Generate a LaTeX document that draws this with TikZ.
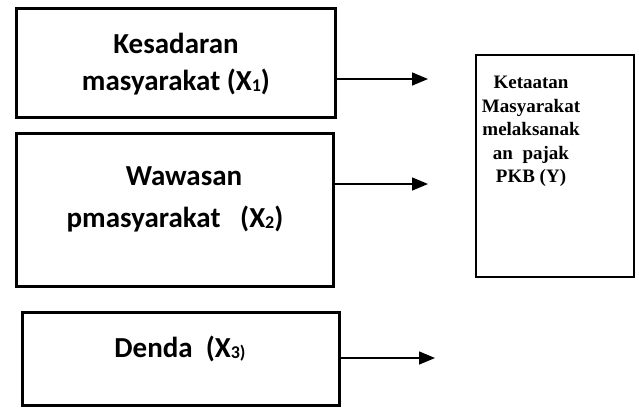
\documentclass[tikz,border=0pt]{standalone}
\usepackage{fontspec}
\setmainfont{Carlito}
\newfontfamily\serifb{Liberation Serif}
\usetikzlibrary{arrows.meta}
\newcommand{\mysub}[1]{\raisebox{-1pt}{\fontsize{18}{18}\selectfont #1}}
\begin{document}
\begin{tikzpicture}[x=1pt,y=-1pt,
  varbox/.style={draw,line width=3pt,rectangle,inner sep=0pt},
  ybox/.style={draw,line width=2pt,rectangle,inner sep=0pt},
  vtext/.style={font=\fontsize{29}{37}\selectfont\bfseries,align=center,inner sep=0pt,anchor=base},
  ytext/.style={font=\serifb\fontsize{19}{23.5}\selectfont\bfseries,align=center,inner sep=0pt,anchor=north},
  arr/.style={line width=1.5pt,-{Triangle[length=16pt,width=13pt]}}]
\useasboundingbox (0,0) rectangle (639,408);
\node[varbox,minimum width=319pt,minimum height=109pt] (b1) at (175.5,62.5) {};
\node[varbox,minimum width=317pt,minimum height=153pt] (b2) at (174.5,209.5) {};
\node[varbox,minimum width=317pt,minimum height=93pt] (b3) at (180.5,358.5) {};
\node[ybox,minimum width=158pt,minimum height=222pt] (y) at (555,166) {};
\node[vtext] (t1a) at (176,53) {Kesadaran};
\node[vtext] (t1b) at (176,90) {masyarakat (X\mysub{1})};
\node[vtext] (t2a) at (184,185) {Wawasan};
\node[vtext] (t2b) at (175,227) {pmasyarakat\ \ \ (X\mysub{2})};
\node[vtext] (t3) at (180,357) {Denda\ \ (X\mysub{3)}};
\node[ytext] (ty) at (531,76) {Ketaatan\\Masyarakat\\melaksanak\\an\ \ pajak\\PKB (Y)};
\coordinate (a1) at (428,79);
\coordinate (a2) at (428,184);
\coordinate (a3) at (435,358);
\draw[arr] (b1.east |- a1) -- (a1);
\draw[arr] (b2.east |- a2) -- (a2);
\draw[arr] (b3.east |- a3) -- (a3);
\end{tikzpicture}
\end{document}
